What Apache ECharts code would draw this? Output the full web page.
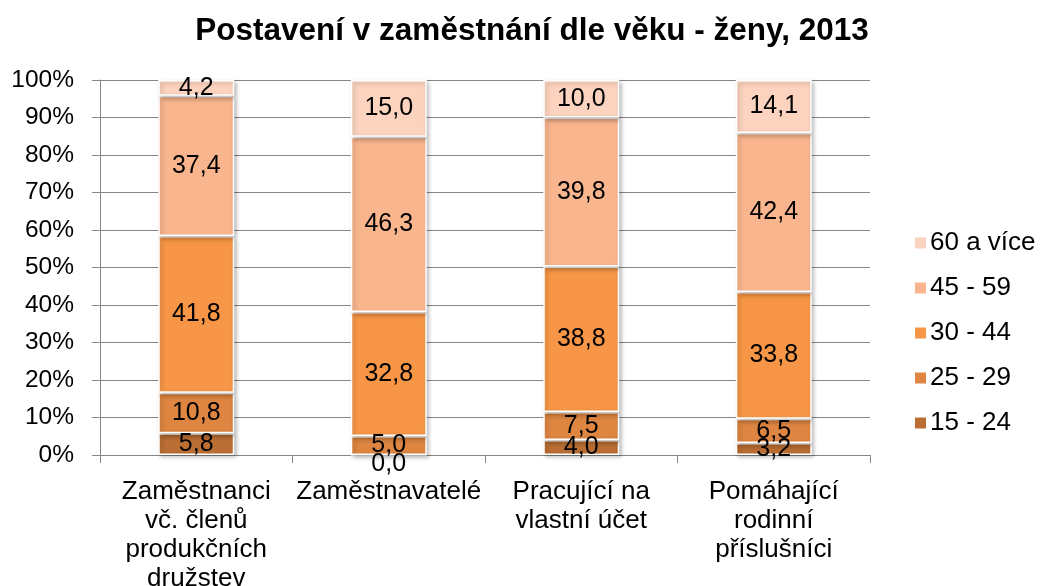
<!DOCTYPE html>
<html>
<head>
<meta charset="utf-8">
<script src="https://cdn.jsdelivr.net/npm/echarts@6/dist/echarts.min.js"></script>
<style>
  html, body { margin: 0; padding: 0; background: #fff; }
  #chart { width: 1042px; height: 586px; }
</style>
</head>
<body>
<div id="chart"></div>
<script>
// kategorie na ose x
const categories = [
  "Zaměstnanci\nvč. členů\nprodukčních\ndružstev",
  "Zaměstnavatelé",
  "Pracující na\nvlastní účet",
  "Pomáhající\nrodinní\npříslušníci"
];

// věkové skupiny
const ageGroups = ["15 - 24", "25 - 29", "30 - 44", "45 - 59", "60 a více"];

// hodnoty v % podle věkových skupin
const v15_24 = [5.8, 0.0, 4.0, 3.2];
const v25_29 = [10.8, 5.0, 7.5, 6.5];
const v30_44 = [41.8, 32.8, 38.8, 33.8];
const v45_59 = [37.4, 46.3, 39.8, 42.4];
const v60 = [4.2, 15.0, 10.0, 14.1];

const yTicks = [0, 10, 20, 30, 40, 50, 60, 70, 80, 90, 100];

const colors = ["#ba6e33", "#dd8541", "#f79646", "#f9b58d", "#fcd3be"];

const rows = [v15_24, v25_29, v30_44, v45_59, v60];

// 100% skládaný graf - součet sloupce = 100 %
const totals = categories.map((c, i) => rows.reduce((s, r) => s + r[i], 0));

const chart = echarts.init(document.getElementById("chart"));

const series = ageGroups.map((name, k) => ({
  name: name,
  type: "bar",
  stack: "total",
  barWidth: 76,
  data: rows[k].map((v, i) => {
    const item = { value: v / totals[i] * 100, raw: v };
    // nulová hodnota - popisek pod osou
    if (v === 0) item.label = { offset: [0, 9] };
    return item;
  }),
  itemStyle: {
    color: colors[k],
    borderColor: "#ffffff",
    borderWidth: 1.5,
    shadowBlur: 4,
    shadowOffsetX: 2,
    shadowOffsetY: 2,
    shadowColor: "rgba(0,0,0,0.25)"
  },
  label: {
    show: true,
    position: "inside",
    color: "#000",
    fontSize: 25,
    fontFamily: "Liberation Sans",
    formatter: p => p.data.raw.toFixed(1).replace(".", ",")
  }
}));

const option = {
  animation: false,
  title: {
    text: "Postavení v zaměstnání dle věku - ženy, 2013",
    left: 527,
    top: 10,
    textAlign: "center",
    textStyle: {
      fontFamily: "Liberation Sans",
      fontWeight: "bold",
      fontSize: 31.5,
      color: "#000"
    }
  },
  legend: {
    orient: "vertical",
    left: 908,
    top: 225,
    itemGap: 19,
    itemWidth: 13,
    itemHeight: 13,
    icon: "rect",
    data: ageGroups.slice().reverse(),
    textStyle: {
      fontFamily: "Liberation Sans",
      fontSize: 26,
      color: "#000",
      padding: [0, 0, 0, -2]
    }
  },
  grid: {
    left: 100,
    right: 172,
    top: 80,
    bottom: 131,
    outerBoundsMode: "none"
  },
  xAxis: {
    type: "category",
    data: categories,
    axisLine: { lineStyle: { color: "#868686", width: 1 } },
    axisTick: { show: true, length: 8, lineStyle: { color: "#868686" } },
    axisLabel: {
      interval: 0,
      margin: 22,
      color: "#000",
      fontFamily: "Liberation Sans",
      fontSize: 26,
      lineHeight: 29
    }
  },
  yAxis: {
    type: "value",
    min: 0,
    max: 100,
    interval: 10,
    axisLine: { show: true, lineStyle: { color: "#868686", width: 1 } },
    axisTick: { show: true, length: 8, lineStyle: { color: "#868686" } },
    splitLine: { lineStyle: { color: "#868686", width: 1 } },
    axisLabel: {
      margin: 26,
      color: "#000",
      fontFamily: "Liberation Sans",
      fontSize: 24.5,
      formatter: v => yTicks.indexOf(v) >= 0 ? v + "%" : ""
    }
  },
  series: series
};

chart.setOption(option);
</script>
</body>
</html>
